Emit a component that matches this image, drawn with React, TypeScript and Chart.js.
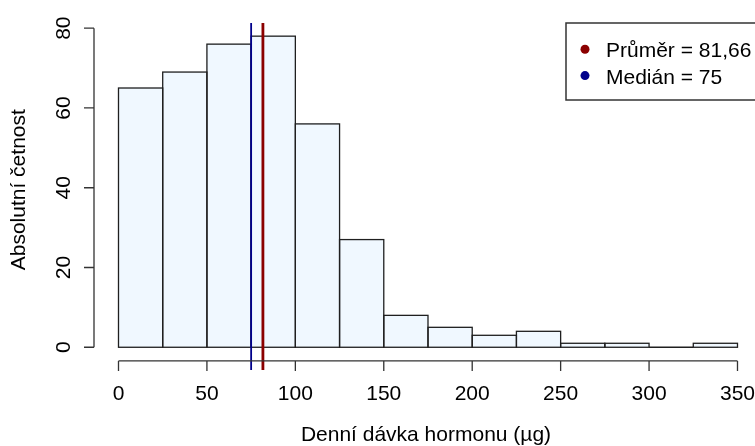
import React, { useEffect, useRef } from "react";
import { Chart, registerables } from "chart.js";

Chart.register(...registerables);

// ---- data ----
const binStarts = [0, 25, 50, 75, 100, 125, 150, 175, 200, 225, 250, 275, 300, 325];
const binWidth = 25;
const counts = [65, 69, 76, 78, 56, 27, 8, 5, 3, 4, 1, 1, 0, 1];
const xTicks = [0, 50, 100, 150, 200, 250, 300, 350];
const yTicks = [0, 20, 40, 60, 80];
const meanValue = 81.66;
const medianValue = 75;
const meanLabel = "Průměr";
const medianLabel = "Medián";
const xTitle = "Denní dávka hormonu (µg)";
const yTitle = "Absolutní četnost";

// ---- styles ----
const W = 755;
const H = 446;
const X_MIN = -13.85;
const X_MAX = 359.9;
const Y_MIN = -5.7;
const Y_MAX = 81.3;
const FONT = '"Liberation Sans", Arial, sans-serif';
const FONT_SIZE = 21;
const MEAN_COLOR = "#8B0000";
const MEDIAN_COLOR = "#00008B";
const BAR_FILL = "#F0F8FF";
const EDGE = "#1f1f1f";
const AXIS = "#333333";

const fmt = (v: number) => String(v).replace(".", ",");

const rPlugin = {
  id: "rStyle",
  afterDatasetDraw(chart: any, args: any) {
    if (args.meta.type !== "bar") return;
    const { ctx } = chart;
    ctx.save();
    ctx.strokeStyle = EDGE;
    ctx.lineWidth = 1.3;
    args.meta.data.forEach((el: any) => {
      const p = el.getProps(["x", "y", "width", "base"], true);
      ctx.strokeRect(p.x - p.width / 2, p.y, p.width, p.base - p.y);
    });
    ctx.restore();
  },
  afterDraw(chart: any) {
    const { ctx, chartArea } = chart;
    const xs = chart.scales.x;
    const ys = chart.scales.y;
    ctx.save();
    ctx.strokeStyle = AXIS;
    ctx.lineWidth = 1.3;
    ctx.fillStyle = "#000";
    ctx.font = `${FONT_SIZE}px ${FONT}`;

    // y axis
    const ax = chartArea.left;
    const yTop = ys.getPixelForValue(yTicks[yTicks.length - 1]);
    const yBot = ys.getPixelForValue(yTicks[0]);
    ctx.beginPath();
    ctx.moveTo(ax, yTop);
    ctx.lineTo(ax, yBot);
    yTicks.forEach((t) => {
      const py = ys.getPixelForValue(t);
      ctx.moveTo(ax - 10, py);
      ctx.lineTo(ax, py);
    });
    ctx.stroke();
    ctx.textAlign = "center";
    ctx.textBaseline = "alphabetic";
    yTicks.forEach((t) => {
      const py = ys.getPixelForValue(t);
      ctx.save();
      ctx.translate(ax - 24, py);
      ctx.rotate(-Math.PI / 2);
      ctx.fillText(String(t), 0, 0);
      ctx.restore();
    });

    // x axis
    const ay = ys.getPixelForValue(0) + 13.7;
    const xL = xs.getPixelForValue(xTicks[0]);
    const xR = xs.getPixelForValue(xTicks[xTicks.length - 1]);
    ctx.beginPath();
    ctx.moveTo(xL, ay);
    ctx.lineTo(xR, ay);
    xTicks.forEach((t) => {
      const px = xs.getPixelForValue(t);
      ctx.moveTo(px, ay);
      ctx.lineTo(px, ay + 10);
    });
    ctx.stroke();
    xTicks.forEach((t) => {
      ctx.fillText(String(t), xs.getPixelForValue(t), ay + 39);
    });

    // titles
    ctx.fillText(xTitle, (xL + xR) / 2 - 2, 441);
    ctx.save();
    ctx.translate(25, (yTop + yBot) / 2 + 2);
    ctx.rotate(-Math.PI / 2);
    ctx.fillText(yTitle, 0, 0);
    ctx.restore();

    // legend
    const lx = 566;
    const ly = chartArea.top;
    ctx.fillStyle = "#fff";
    ctx.fillRect(lx, ly, 260, 77);
    ctx.strokeStyle = AXIS;
    ctx.lineWidth = 1.5;
    ctx.strokeRect(lx, ly, 260, 77);
    const items = [
      { label: `${meanLabel} = ${fmt(meanValue)}`, color: MEAN_COLOR },
      { label: `${medianLabel} = ${fmt(medianValue)}`, color: MEDIAN_COLOR },
    ];
    ctx.textAlign = "left";
    items.forEach((it, i) => {
      const cy = ly + 26.3 + i * 26.3;
      ctx.fillStyle = it.color;
      ctx.beginPath();
      ctx.arc(lx + 19, cy, 4.5, 0, Math.PI * 2);
      ctx.fill();
      ctx.fillStyle = "#000";
      ctx.fillText(it.label, lx + 40, cy + 8);
    });
    ctx.restore();
  },
};

export default function App() {
  const ref = useRef<HTMLCanvasElement | null>(null);

  useEffect(() => {
    if (!ref.current) return;
    const chart = new Chart(ref.current, {
      type: "bar",
      data: {
        datasets: [
          {
            type: "line",
            data: [
              { x: meanValue, y: Y_MIN },
              { x: meanValue, y: Y_MAX },
            ],
            borderColor: MEAN_COLOR,
            borderWidth: 2.8,
            pointRadius: 0,
            order: 1,
          } as any,
          {
            type: "line",
            data: [
              { x: medianValue, y: Y_MIN },
              { x: medianValue, y: Y_MAX },
            ],
            borderColor: MEDIAN_COLOR,
            borderWidth: 1.8,
            pointRadius: 0,
            order: 2,
          } as any,
          {
            type: "bar",
            data: binStarts.map((s, i) => ({ x: s + binWidth / 2, y: counts[i] })),
            backgroundColor: BAR_FILL,
            borderWidth: 0,
            barPercentage: 1,
            categoryPercentage: 1,
            order: 3,
          } as any,
        ],
      },
      options: {
        animation: false,
        responsive: false,
        maintainAspectRatio: false,
        layout: { padding: { left: 94, top: 23, right: 0, bottom: H - 370 } },
        scales: {
          x: { type: "linear", min: X_MIN, max: X_MAX, display: false, offset: false },
          y: { type: "linear", min: Y_MIN, max: Y_MAX, display: false },
        },
        plugins: {
          legend: { display: false },
          tooltip: { enabled: false },
        },
      },
      plugins: [rPlugin],
    } as any);
    return () => chart.destroy();
  }, []);

  return (
    <div style={{ position: "fixed", left: 0, top: 0, width: W, height: H, background: "#fff" }}>
      <canvas ref={ref} width={W} height={H} style={{ display: "block" }} />
    </div>
  );
}
